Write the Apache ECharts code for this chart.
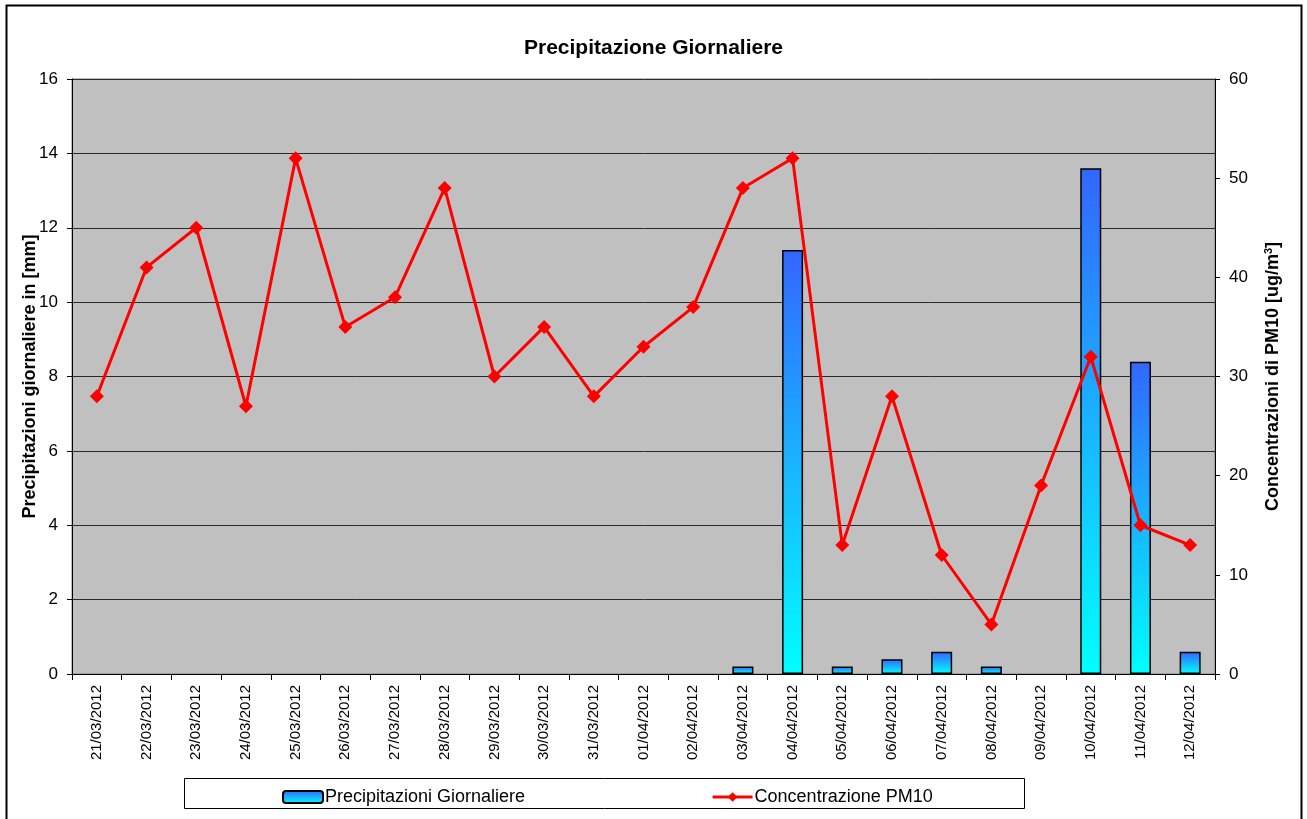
<!DOCTYPE html>
<html><head><meta charset="utf-8">
<script src="https://cdn.jsdelivr.net/npm/echarts@6/dist/echarts.min.js"></script>
<style>html,body{margin:0;padding:0;background:#fff}#c{width:1307px;height:819px}</style>
</head><body><div id="c"></div>
<script>
const categories = ['21/03/2012','22/03/2012','23/03/2012','24/03/2012','25/03/2012','26/03/2012','27/03/2012','28/03/2012','29/03/2012','30/03/2012','31/03/2012','01/04/2012','02/04/2012','03/04/2012','04/04/2012','05/04/2012','06/04/2012','07/04/2012','08/04/2012','09/04/2012','10/04/2012','11/04/2012','12/04/2012'];
const precipitazioni = [0,0,0,0,0,0,0,0,0,0,0,0,0,0.2,11.4,0.2,0.4,0.6,0.2,0,13.6,8.4,0.6];
const pm10 = [28,41,45,27,52,35,38,49,30,35,28,33,37,49,52,13,28,12,5,19,32,15,13];
const leftTicks = {min:0, max:16, interval:2};
const rightTicks = {min:0, max:60, interval:10};

const F = 'Liberation Sans, Arial, sans-serif';
const barGrad = new echarts.graphic.LinearGradient(0,0,0,1,[{offset:0,color:'#3366ff'},{offset:1,color:'#00ffff'}]);
const chart = echarts.init(document.getElementById('c'));
chart.setOption({
  animation:false,
  backgroundColor:'#fff',
  title:{text:'Precipitazione Giornaliere', left:'center', top:33,
    textStyle:{fontFamily:F, fontSize:21, fontWeight:'bold', color:'#000'}},
  grid:{left:72, right:92, top:79, bottom:145, show:true, backgroundColor:'#c0c0c0', borderColor:'#808080', borderWidth:1},
  legend:{left:277, top:783, itemWidth:40, itemHeight:12, itemGap:186,
    textStyle:{fontFamily:F, fontSize:18, color:'#000', padding:[0,0,0,-3]},
    data:[
      {name:'Precipitazioni Giornaliere'},
      {name:'Concentrazione PM10', lineStyle:{width:3, color:'#ff0000'}, itemStyle:{color:'#ff0000'}}
    ]},
  graphic:[
    {type:'rect', shape:{x:6.5,y:5.5,width:1295,height:830}, style:{fill:null, stroke:'#000', lineWidth:2}, z:-1},
    {type:'rect', shape:{x:184.5,y:778.5,width:840,height:30}, style:{fill:'#fff', stroke:'#000', lineWidth:1}, z:-1}
  ],
  xAxis:{type:'category', data:categories, boundaryGap:true,
    axisLine:{lineStyle:{color:'#000', width:1}},
    axisTick:{show:true, alignWithLabel:false, length:6, lineStyle:{color:'#000'}},
    axisLabel:{rotate:90, fontFamily:F, fontSize:15, color:'#000', margin:11, interval:0},
    splitLine:{show:false}},
  yAxis:[
    {type:'value', min:leftTicks.min, max:leftTicks.max, interval:leftTicks.interval, position:'left',
     name:'Precipitazioni giornaliere in [mm]', nameLocation:'middle', nameRotate:90, nameGap:33, nameMoveOverlap:false,
     nameTextStyle:{fontFamily:F, fontSize:18, fontWeight:'bold', color:'#000'},
     axisLine:{show:true, lineStyle:{color:'#000'}},
     axisTick:{show:true, length:5, lineStyle:{color:'#000'}},
     axisLabel:{fontFamily:F, fontSize:17, color:'#000', margin:14},
     splitLine:{show:true, lineStyle:{color:'#2a2a2a', width:1}}},
    {type:'value', min:rightTicks.min, max:rightTicks.max, interval:rightTicks.interval, position:'right',
     name:'{a|Concentrazioni di PM10 [ug/m}{s|3}{a|]}', nameLocation:'middle', nameRotate:90, nameGap:48,
     nameTextStyle:{rich:{a:{fontFamily:F, fontSize:18, fontWeight:'bold', color:'#000'}, s:{fontFamily:F, fontSize:11, fontWeight:'bold', color:'#000', verticalAlign:'top', padding:[0,0,9,0]}}},
     axisLine:{show:true, lineStyle:{color:'#000'}},
     axisTick:{show:true, length:5, lineStyle:{color:'#000'}},
     axisLabel:{fontFamily:F, fontSize:17, color:'#000', margin:14},
     splitLine:{show:false}}
  ],
  series:[
    {name:'Precipitazioni Giornaliere', type:'bar', yAxisIndex:0,
     data:precipitazioni.map(v => v === 0 ? '-' : v), barWidth:21,
     itemStyle:{color:barGrad, borderColor:'#000', borderWidth:1.5}},
    {name:'Concentrazione PM10', type:'line', yAxisIndex:1, data:pm10,
     symbol:'diamond', symbolSize:14,
     lineStyle:{color:'#ff0000', width:3}, itemStyle:{color:'#ff0000'}, z:5}
  ]
});
</script></body></html>
